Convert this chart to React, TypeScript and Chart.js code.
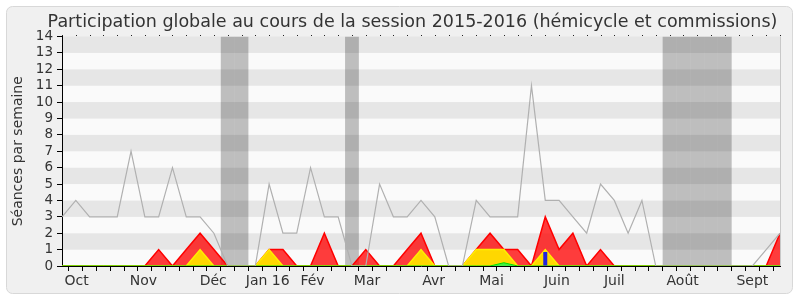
import { useEffect, useRef } from "react";
import { Chart, registerables } from "chart.js";

Chart.register(...registerables);

// ---- data (one value per week, 53 weeks) ----
const seancesMax = [3, 4, 3, 3, 3, 7, 3, 3, 6, 3, 3, 2, 0, 0, 0, 5, 2, 2, 6, 3, 3, 0, 0, 5, 3, 3, 4, 3, 0, 0, 4, 3, 3, 3, 11, 4, 4, 3, 2, 5, 4, 2, 4, 0, 0, 0, 0, 0, 0, 0, 0, 1, 2];
const presencesCommission = [0, 0, 0, 0, 0, 0, 0, 1, 0, 1, 2, 1, 0, 0, 0, 1, 1, 0, 0, 2, 0, 0, 1, 0, 0, 1, 2, 0, 0, 0, 1, 2, 1, 1, 0, 3, 1, 2, 0, 1, 0, 0, 0, 0, 0, 0, 0, 0, 0, 0, 0, 0, 2];
const presencesHemicycle = [0, 0, 0, 0, 0, 0, 0, 0, 0, 0, 1, 0, 0, 0, 0, 1, 0, 0, 0, 0, 0, 0, 0, 0, 0, 0, 1, 0, 0, 0, 1, 1, 1, 0, 0, 1, 0, 0, 0, 0, 0, 0, 0, 0, 0, 0, 0, 0, 0, 0, 0, 0, 0];
const interventions = [0, 0, 0, 0, 0, 0, 0, 0, 0, 0, 0, 0, 0, 0, 0, 0, 0, 0, 0, 0, 0, 0, 0, 0, 0, 0, 0, 0, 0, 0, 0, 0, 0.2, 0, 0, 0, 0, 0, 0, 0, 0, 0, 0, 0, 0, 0, 0, 0, 0, 0, 0, 0, 0];
const questionsOrales = [0, 0, 0, 0, 0, 0, 0, 0, 0, 0, 0, 0, 0, 0, 0, 0, 0, 0, 0, 0, 0, 0, 0, 0, 0, 0, 0, 0, 0, 0, 0, 0, 0, 0, 0, 0.85, 0, 0, 0, 0, 0, 0, 0, 0, 0, 0, 0, 0, 0, 0, 0, 0, 0];
const vacances = [0, 0, 0, 0, 0, 0, 0, 0, 0, 0, 0, 0, 1, 1, 0, 0, 0, 0, 0, 0, 0, 1, 0, 0, 0, 0, 0, 0, 0, 0, 0, 0, 0, 0, 0, 0, 0, 0, 0, 0, 0, 0, 0, 0, 1, 1, 1, 1, 1, 0, 0, 0, 0];

const monthLabels = ["Oct", "Nov", "Déc", "Jan 16", "Fév", "Mar", "Avr", "Mai", "Juin", "Juil", "Août", "Sept"];
const monthTickPos = [1.06, 5.89, 10.95, 14.9, 18.14, 22.09, 26.92, 31.11, 35.84, 40.0, 44.95, 50.0];
const yMax = 14;

const titleText = "Participation globale au cours de la session 2015-2016 (hémicycle et commissions)";
const yTitleText = "Séances par semaine";

const FONT = '"DejaVu Sans", Verdana, sans-serif';

export default function App() {
  const ref = useRef<HTMLCanvasElement>(null);

  useEffect(() => {
    document.body.style.margin = "0";
    const canvas = ref.current!;
    const nWeeks = seancesMax.length;
    const weekTicks = seancesMax.map((_, i) => i);
    const pts = (arr: number[]) => arr.map((y, i) => ({ x: i, y }));
    const nonZero = (arr: number[], val?: number) =>
      arr.map((y, i) => ({ x: i, y: val !== undefined ? val : y })).filter((p, i) => arr[i] > 0);

    const decor = {
      id: "decor",
      beforeDraw(chart: any) {
        const { ctx, chartArea: a, scales } = chart;
        const y = scales.y;
        ctx.save();
        ctx.fillStyle = "#ffffff";
        ctx.fillRect(0, 0, chart.width, chart.height);
        // rounded frame
        const fx = 6.5, fy = 6.5, fw = 786, fh = 287, r = 6;
        ctx.beginPath();
        ctx.moveTo(fx + r, fy);
        ctx.lineTo(fx + fw - r, fy);
        ctx.arcTo(fx + fw, fy, fx + fw, fy + r, r);
        ctx.lineTo(fx + fw, fy + fh - r);
        ctx.arcTo(fx + fw, fy + fh, fx + fw - r, fy + fh, r);
        ctx.lineTo(fx + r, fy + fh);
        ctx.arcTo(fx, fy + fh, fx, fy + fh - r, r);
        ctx.lineTo(fx, fy + r);
        ctx.arcTo(fx, fy, fx + r, fy, r);
        ctx.closePath();
        ctx.fillStyle = "#f0f0f0";
        ctx.fill();
        ctx.strokeStyle = "#d8d8d8";
        ctx.lineWidth = 1;
        ctx.stroke();
        // horizontal stripes
        for (let v = 0; v < yMax; v++) {
          const y0 = y.getPixelForValue(v);
          const y1 = y.getPixelForValue(v + 1);
          ctx.fillStyle = v % 2 === 1 ? "#e6e6e6" : "#fafafa";
          ctx.fillRect(a.left, y1, a.right - a.left, y0 - y1);
        }
        ctx.restore();
      },
      afterDraw(chart: any) {
        const { ctx, chartArea: a, scales } = chart;
        const x = scales.x;
        ctx.save();
        // right edge
        ctx.strokeStyle = "#c8c8c8";
        ctx.lineWidth = 1;
        ctx.beginPath();
        ctx.moveTo(Math.round(a.right) + 0.5, a.top);
        ctx.lineTo(Math.round(a.right) + 0.5, a.bottom);
        ctx.stroke();
        // top dotted ticks
        ctx.fillStyle = "#222";
        for (const w of weekTicks) {
          const px = Math.round(x.getPixelForValue(w));
          ctx.fillRect(px, Math.round(a.top) - 2, 1, 1);
        }
        // title
        ctx.fillStyle = "#333";
        ctx.font = `17.5px ${FONT}`;
        ctx.textAlign = "center";
        ctx.textBaseline = "alphabetic";
        ctx.fillText(titleText, 412.5, 26.5);
        // y title
        ctx.translate(18, (a.top + a.bottom) / 2);
        ctx.rotate(-Math.PI / 2);
        ctx.font = `14px ${FONT}`;
        ctx.textBaseline = "middle";
        ctx.fillText(yTitleText, 0, 0);
        ctx.restore();
      },
    };

    const chart = new Chart(canvas, {
      type: "line",
      data: {
        datasets: [
          {
            type: "bar",
            label: "Questions orales",
            data: nonZero(questionsOrales),
            backgroundColor: "#2222dd",
            barThickness: 4,
            grouped: false,
            inflateAmount: 0,
            order: 0,
          } as any,
          {
            label: "Séances",
            data: pts(seancesMax),
            borderColor: "#b0b0b0",
            borderWidth: 1.2,
            pointRadius: 0,
            fill: false,
            order: 1,
          },
          {
            label: "Interventions",
            data: pts(interventions),
            borderColor: "#00e000",
            backgroundColor: "#44ee44",
            borderWidth: 1,
            pointRadius: 0,
            fill: "origin",
            order: 2,
          },
          {
            label: "Hémicycle",
            data: pts(presencesHemicycle),
            borderColor: "#ffee00",
            backgroundColor: "#ffd700",
            borderWidth: 1.5,
            pointRadius: 0,
            fill: "origin",
            order: 3,
          },
          {
            label: "Commission",
            data: pts(presencesCommission),
            borderColor: "#ff0000",
            backgroundColor: "rgba(255,0,0,0.76)",
            borderWidth: 1.5,
            pointRadius: 0,
            fill: "origin",
            order: 4,
          },
          {
            type: "bar",
            label: "Vacances",
            data: nonZero(vacances, yMax),
            backgroundColor: "rgba(0,0,0,0.24)",
            barPercentage: 1,
            categoryPercentage: 1,
            grouped: false,
            inflateAmount: 0,
            borderWidth: 0,
            order: 5,
          } as any,
        ],
      },
      options: {
        animation: false,
        responsive: false,
        devicePixelRatio: 1,
        layout: { padding: { top: 36.5, right: 20, left: 0, bottom: 0 } },
        plugins: {
          legend: { display: false },
          tooltip: { enabled: false },
          title: { display: false },
        },
        scales: {
          x: {
            type: "linear",
            min: 0,
            max: nWeeks - 1,
            offset: false,
            afterBuildTicks: (s: any) => {
              s.ticks = [
                ...weekTicks.map((v) => ({ value: v })),
                ...monthTickPos.map((v) => ({ value: v })),
              ];
            },
            afterFit: (s: any) => {
              s.height = 34;
            },
            ticks: {
              autoSkip: false,
              maxRotation: 0,
              minRotation: 0,
              padding: 2,
              color: "#333",
              font: { family: FONT, size: 14 },
              callback: (_v: any, i: number) => (i >= nWeeks ? monthLabels[i - nWeeks] : ""),
            },
            grid: {
              drawOnChartArea: false,
              drawTicks: true,
              tickLength: 5,
              color: (c: any) => (c.index < nWeeks ? "#000" : "rgba(0,0,0,0)"),
              tickColor: (c: any) => (c.index < nWeeks ? "#000" : "rgba(0,0,0,0)"),
            },
            border: { display: true, color: "#000", width: 1 },
          } as any,
          y: {
            type: "linear",
            min: 0,
            max: yMax,
            afterFit: (s: any) => {
              s.width = 62;
            },
            ticks: {
              stepSize: 1,
              autoSkip: false,
              padding: 4,
              color: "#333",
              font: { family: FONT, size: 13.5 },
            },
            grid: {
              drawOnChartArea: false,
              drawTicks: true,
              tickLength: 5,
              color: "#000",
              tickColor: "#000",
            },
            border: { display: true, color: "#000", width: 1 },
          } as any,
        },
      },
      plugins: [decor],
    });
    return () => chart.destroy();
  }, []);

  return (
    <div style={{ width: 800, height: 300 }}>
      <canvas ref={ref} width={800} height={300} style={{ display: "block" }} />
    </div>
  );
}
